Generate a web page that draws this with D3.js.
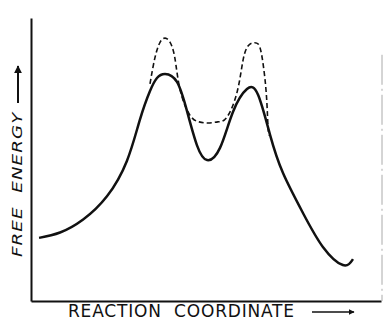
<!DOCTYPE html>
<html>
<head>
<meta charset="utf-8">
<script src="https://cdn.jsdelivr.net/npm/d3@7"></script>
<style>
  body { margin: 0; background: #fff; }
  text { font-family: "DejaVu Sans", sans-serif; fill: #111; }
</style>
</head>
<body>
<div id="chart"></div>
<script>
// reaction coordinate (0-100) vs free energy (0-100)
var solidX = [2.3, 8.3, 14.9, 21.7, 27.4, 31.1, 34.0, 36.0, 38.3, 41.7, 44.6, 47.4, 50.3, 54.0, 57.7, 61.7, 64.9, 68.3, 72.0, 77.7, 83.4, 89.1, 92.0];
var solidY = [22.3, 24.2, 28.8, 37.0, 49.5, 64.0, 74.2, 78.8, 80.2, 77.4, 67.0, 55.1, 49.8, 54.1, 66.8, 74.9, 72.8, 58.7, 45.2, 31.1, 19.1, 12.7, 14.8];

var dashX = [34.0, 35.4, 36.9, 38.3, 39.7, 41.1, 42.6, 45.4, 48.0, 50.6, 53.4, 56.0, 58.9, 60.6, 62.0, 63.4, 64.9, 65.9, 66.8, 67.4, 67.7, 68.0];
var dashY = [76.7, 85.9, 91.5, 92.9, 91.5, 85.9, 74.6, 65.7, 63.3, 62.9, 63.3, 65.0, 73.9, 85.2, 90.1, 91.2, 90.8, 87.0, 79.0, 70.0, 62.0, 58.5];

var xLabel = "REACTION  COORDINATE";
var yLabel = "FREE  ENERGY";

var width = 385;
var height = 321;
var margin = { top: 18, right: 4, bottom: 20, left: 31 };

var svg = d3.select("#chart")
    .append("svg")
    .attr("width", width)
    .attr("height", height);

var x = d3.scaleLinear()
    .domain([0, 100])
    .range([margin.left, width - margin.right]);

var y = d3.scaleLinear()
    .domain([0, 100])
    .range([height - margin.bottom, margin.top]);

// arrowhead marker
svg.append("defs").append("marker")
    .attr("id", "head")
    .attr("viewBox", "0 0 10 10")
    .attr("refX", 9)
    .attr("refY", 5)
    .attr("markerWidth", 4)
    .attr("markerHeight", 4)
    .attr("markerUnits", "strokeWidth")
    .attr("orient", "auto")
    .append("path")
    .attr("d", "M0,0 L10,5 L0,10 Z")
    .attr("fill", "#111");

// axes, no ticks
svg.append("g")
    .attr("transform", "translate(" + x(0) + ",0)")
    .call(d3.axisLeft(y).ticks(0).tickSizeOuter(0))
    .select("path.domain")
    .attr("stroke", "#111")
    .attr("stroke-width", 2);

svg.append("g")
    .attr("transform", "translate(0," + y(0) + ")")
    .call(d3.axisBottom(x).ticks(0).tickSizeOuter(0))
    .select("path.domain")
    .attr("stroke", "#111")
    .attr("stroke-width", 2);

// faint right border
svg.append("line")
    .attr("x1", x(100) + 1).attr("x2", x(100) + 1)
    .attr("y1", y(87)).attr("y2", y(0))
    .attr("stroke", "#aaa")
    .attr("stroke-width", 1)
    .attr("stroke-dasharray", "30,4,2,4");

var line = d3.line()
    .x(function(d) { return x(d[0]); })
    .y(function(d) { return y(d[1]); })
    .curve(d3.curveNatural);

svg.append("path")
    .datum(dashX.map(function(v, i) { return [v, dashY[i]]; }))
    .attr("d", line)
    .attr("fill", "none")
    .attr("stroke", "#111")
    .attr("stroke-width", 1.6)
    .attr("stroke-dasharray", "5,3");

svg.append("path")
    .datum(solidX.map(function(v, i) { return [v, solidY[i]]; }))
    .attr("d", line)
    .attr("fill", "none")
    .attr("stroke", "#111")
    .attr("stroke-width", 2.5);

// x label + arrow
svg.append("text")
    .attr("x", 68)
    .attr("y", 317)
    .attr("textLength", 226)
    .attr("lengthAdjust", "spacing")
    .style("font-size", "17px")
    .style("white-space", "pre")
    .text(xLabel);

svg.append("line")
    .attr("x1", 312).attr("x2", 354)
    .attr("y1", 312).attr("y2", 312)
    .attr("stroke", "#111")
    .attr("stroke-width", 1.5)
    .attr("marker-end", "url(#head)");

// y label + arrow (stretched along its length like the hand lettering)
svg.append("text")
    .attr("transform", "translate(22,257) rotate(-90) scale(1.3,1)")
    .attr("textLength", 111)
    .attr("lengthAdjust", "spacing")
    .style("font-size", "14px")
    .style("font-style", "italic")
    .style("white-space", "pre")
    .text(yLabel);

svg.append("line")
    .attr("x1", 18).attr("x2", 18)
    .attr("y1", 103).attr("y2", 66)
    .attr("stroke", "#111")
    .attr("stroke-width", 2)
    .attr("marker-end", "url(#head)");
</script>
</body>
</html>
